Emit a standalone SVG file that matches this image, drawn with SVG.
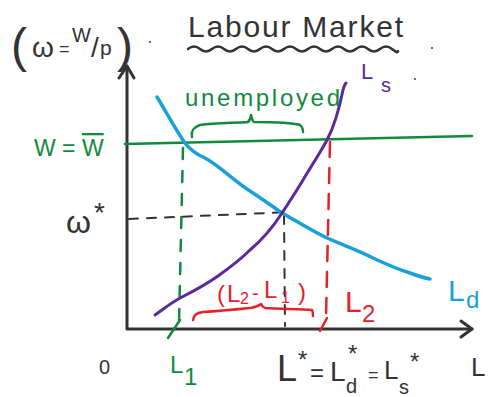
<svg xmlns="http://www.w3.org/2000/svg" width="499" height="397" viewBox="0 0 499 397">
<style>
text{font-family:"Liberation Sans",Arial,sans-serif}
.k{fill:#333}
.g{fill:#118a3e}
.r{fill:#e8202a}
.b{fill:#18a0d8}
.p{fill:#5a2a9a}
.ln{fill:none;stroke-linecap:round;stroke-linejoin:round}
</style>
<rect width="499" height="397" fill="#fff"/>
<g id="title">
<text class="k" x="188" y="37" font-size="30" textLength="215" lengthAdjust="spacing">Labour Market</text>
<path class="ln" stroke="#333" stroke-width="2.5" d="M188,49 q6,-5 12,0 t12,0 t12,0 t12,0 t12,0 t12,0 t12,0 t12,0 t12,0 t12,0 t12,0 t12,0 t12,0 t12,0 t12,0 t12,0 t12,0 t6,2"/>
<circle cx="432" cy="48" r="1" fill="#333"/>
</g>
<g id="wage-def">
<text class="k"><tspan x="11" y="62" font-size="48">(</tspan><tspan x="32" y="57" font-size="28">ω</tspan><tspan x="59" y="55" font-size="18">=</tspan><tspan x="72" y="42" font-size="20">W</tspan><tspan x="91" y="57" font-size="28">/</tspan><tspan x="100" y="55" font-size="21">p</tspan><tspan x="117" y="62" font-size="48">)</tspan></text>
<circle cx="150" cy="42" r="1" fill="#333"/>
</g>
<g id="axes">
<path class="ln" stroke="#333" stroke-width="3" d="M127,66 V329 H472"/>
<path class="ln" stroke="#333" stroke-width="3" d="M119,78 L127,66 L134,78"/>
<path class="ln" stroke="#333" stroke-width="3" d="M461,321 L472,329 L461,337"/>
<circle cx="126" cy="62" r="1" fill="#333"/>
</g>
<g id="connectors">
<path class="ln" stroke="#118a3e" stroke-width="2.5" d="M125,144 L472,136"/>
<path class="ln" stroke="#118a3e" stroke-width="2.5" stroke-dasharray="11 12" d="M183,148 L179,322"/>
<path class="ln" stroke="#118a3e" stroke-width="2.5" d="M180,320 L168,338"/>
<path class="ln" stroke="#333" stroke-width="2" stroke-dasharray="9 9" d="M129,219 L290,212"/>
<path class="ln" stroke="#333" stroke-width="2" stroke-dasharray="9 9" d="M284,215 L285,326"/>
<path class="ln" stroke="#e8202a" stroke-width="2.5" stroke-dasharray="15 11" d="M330,142 L326,318"/>
<path class="ln" stroke="#e8202a" stroke-width="2.5" d="M327,318 L320,331"/>
</g>
<g id="Ld">
<path class="ln" stroke="#18a0d8" stroke-width="3.5" d="M157,97 C168,115 177,132 185,143 C191,151 198,155 205,158 C220,166 235,182 253,193 C262,199 272,206 282,213 C298,222 312,231 327,238 C343,245 360,251 373,258 C390,266 400,270 410,273 C418,276 424,278 430,279"/>
<text class="b" x="448" y="301" font-size="30">L</text>
<text class="b" x="466" y="308" font-size="24">d</text>
</g>
<g id="Ls">
<path class="ln" stroke="#5a2a9a" stroke-width="3" d="M155,315 C165,308 172,302 182,297 C198,289 208,283 218,276 C232,266 242,258 250,250 C262,240 273,227 282,213 C290,201 297,190 303,180 C312,165 320,153 327,140 C335,125 340,105 343,90 C344,86 345,84 346,83"/>
<text class="p" x="361" y="79" font-size="22">L</text>
<text class="p" x="381" y="92" font-size="20">s</text>
<circle cx="415" cy="79" r="1" fill="#5a2a9a"/>
</g>
<g id="unemployed">
<text class="g" x="185" y="106" font-size="24" textLength="155" lengthAdjust="spacing">unemployed</text>
<path class="ln" stroke="#118a3e" stroke-width="2.5" d="M192,137 C191,132 192,128 200,125 C215,123 235,123 248,122 C250,120 251,117 251,115 C252,118 252,121 254,122 C270,122 290,122 300,125 C303,127 303,130 303,132"/>
</g>
<g id="wage-floor">
<text class="g" x="34" y="156" font-size="23">W = <tspan text-decoration="overline">W</tspan></text>
</g>
<g id="w-star">
<text class="k" x="66" y="233" font-size="32">ω</text>
<text class="k" x="94" y="222" font-size="28">*</text>
</g>
<g id="gap-label">
<text class="r"><tspan x="217" y="302" font-size="24">(</tspan><tspan x="227" y="302" font-size="24">L</tspan><tspan x="240" y="304" font-size="16">2</tspan><tspan x="252" y="300" font-size="20">-</tspan><tspan x="264" y="298" font-size="24">L</tspan><tspan x="281" y="303" font-size="16">1</tspan><tspan x="298" y="300" font-size="24">)</tspan></text>
<path class="ln" stroke="#e8202a" stroke-width="2.5" d="M193,320 C194,315 196,313 203,312 C220,311 240,309 250,308 C256,307 259,306 261,304 C262,306 263,307 265,308 C280,309 300,309 312,310 C313,312 313,314 313,316"/>
</g>
<g id="L2">
<text class="r" x="345" y="312" font-size="30">L</text>
<text class="r" x="362" y="322" font-size="24">2</text>
</g>
<g id="L1">
<text class="g" x="170" y="373" font-size="24">L</text>
<text class="g" x="184" y="385" font-size="24">1</text>
</g>
<g id="origin">
<text class="k" x="99" y="374" font-size="20">0</text>
</g>
<g id="L-star">
<text class="k"><tspan x="277" y="381" font-size="36">L</tspan><tspan x="298" y="368" font-size="24">*</tspan><tspan x="310" y="381" font-size="24">=</tspan><tspan x="330" y="381" font-size="28">L</tspan><tspan x="348" y="362" font-size="24">*</tspan><tspan x="346" y="393" font-size="20">d</tspan><tspan x="368" y="381" font-size="18">=</tspan><tspan x="384" y="379" font-size="26">L</tspan><tspan x="410" y="370" font-size="24">*</tspan><tspan x="399" y="394" font-size="20">s</tspan></text>
</g>
<g id="L-axis">
<text class="k" x="471" y="376" font-size="26">L</text>
</g>
</svg>
